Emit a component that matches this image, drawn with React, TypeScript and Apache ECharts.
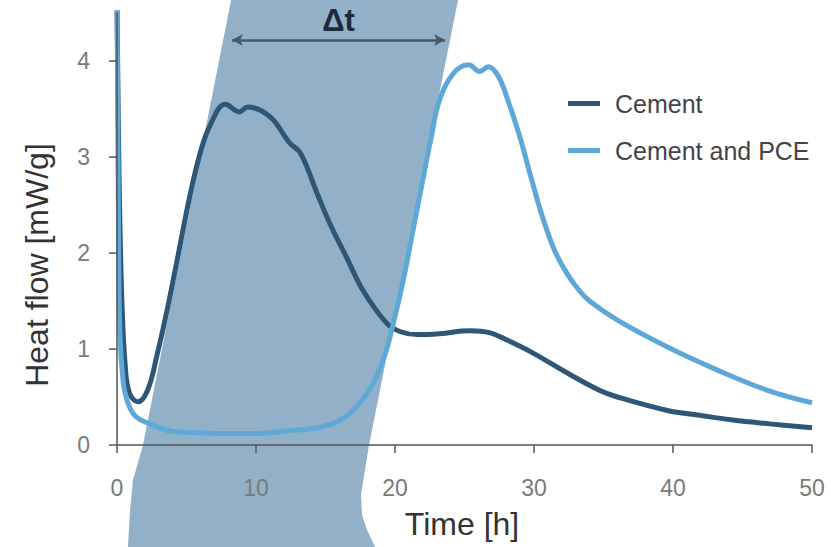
import React, { useEffect, useRef } from "react";
import * as echarts from "echarts";

const seriesNames = ["Cement", "Cement and PCE"];

const timeCement = [0, 0.15, 0.35, 0.6, 0.9, 1.5, 2.2, 2.9, 3.6, 4.4, 5.25, 6.0, 6.7, 7.8, 8.8, 9.4, 11, 12.4, 13.2, 14.4, 15.3, 16.5, 17.7, 19.4, 20.4, 21.6, 23.2, 25.4, 26.8, 28.1, 29.9, 32.4, 34.7, 36, 39.6, 41.9, 44.3, 47, 50];
const heatCement = [4.6, 2.8, 1.5, 0.81, 0.54, 0.45, 0.57, 0.95, 1.4, 1.98, 2.6, 3.05, 3.33, 3.55, 3.47, 3.52, 3.42, 3.15, 3.04, 2.62, 2.31, 1.96, 1.61, 1.27, 1.18, 1.15, 1.16, 1.19, 1.17, 1.09, 0.96, 0.75, 0.57, 0.5, 0.36, 0.31, 0.26, 0.22, 0.18];

const timePce = [0, 0.1, 0.2, 0.45, 0.75, 1.15, 1.6, 2.2, 3, 4, 5.5, 7.6, 10, 12.4, 14, 15.5, 16.5, 17.3, 18, 18.7, 19.3, 19.8, 20.6, 21.3, 22.0, 22.6, 23.2, 24.2, 25.3, 26.1, 26.7, 27.4, 28.1, 29.0, 29.8, 30.6, 31.5, 32.4, 33.2, 34, 36, 39.6, 43.2, 46.8, 50];
const heatPce = [4.6, 2.5, 1.2, 0.65, 0.45, 0.33, 0.27, 0.23, 0.18, 0.14, 0.13, 0.12, 0.12, 0.15, 0.17, 0.22, 0.3, 0.41, 0.54, 0.72, 0.95, 1.22, 1.72, 2.24, 2.76, 3.2, 3.59, 3.87, 3.96, 3.89, 3.94, 3.85, 3.6, 3.2, 2.78, 2.38, 2.02, 1.78, 1.62, 1.5, 1.3, 1.02, 0.78, 0.57, 0.44];

const xTicks = [0, 10, 20, 30, 40, 50];
const yTicks = [0, 1, 2, 3, 4];

// shaded induction-delay band, in (time, heat flow) units
const bandLeftEdge = [[8.35, 4.74], [1.87, 0], [1.15, -0.365], [0.94, -0.68], [0.79, -1.06], [0.72, -1.2]];
const bandRightEdge = [[19.06, -1.2], [18.56, -1.06], [17.99, -0.885], [17.63, -0.73], [17.55, -0.52], [17.84, -0.26], [18.13, 0], [24.68, 4.74]];

// Δt arrow ends (time, heat flow)
const deltaTArrow = [[8.27, 4.22], [23.6, 4.22]];
const deltaTLabel = "Δt";

const FONT = "'Liberation Sans', Arial, Helvetica, sans-serif";

export default function App() {
  const ref = useRef<HTMLDivElement>(null);
  useEffect(() => {
    if (!ref.current) return;
    const chart = echarts.init(ref.current, undefined, { renderer: "svg" });
    const cementData = timeCement.map((t, i) => [t, heatCement[i]]);
    const pceData = timePce.map((t, i) => [t, heatPce[i]]);
    const bandPoints = [...bandLeftEdge, ...bandRightEdge];
    chart.setOption({
      animation: false,
      backgroundColor: "#ffffff",
      grid: { left: 117, right: 19, top: 13, bottom: 102, containLabel: false },
      xAxis: {
        type: "value",
        min: 0,
        max: 50,
        interval: 10,
        z: 5,
        axisLine: { show: true, lineStyle: { color: "#555", width: 1.5 } },
        axisTick: { show: true, length: 8, lineStyle: { color: "#555", width: 1.5 }, customValues: xTicks },
        axisLabel: { margin: 31, fontSize: 23, color: "#7a7a7a", fontFamily: FONT, customValues: xTicks },
        splitLine: { show: false },
      },
      yAxis: {
        type: "value",
        min: 0,
        max: 4.5,
        interval: 1,
        z: 5,
        axisLine: { show: true, lineStyle: { color: "#555", width: 1.5 } },
        axisTick: { show: true, length: 8, lineStyle: { color: "#555", width: 1.5 }, customValues: yTicks },
        axisLabel: { margin: 27, fontSize: 23, color: "#7a7a7a", fontFamily: FONT, customValues: yTicks },
        splitLine: { show: false },
      },
      legend: {
        data: seriesNames,
        orient: "vertical",
        left: 563,
        top: 86,
        icon: "rect",
        itemWidth: 32,
        itemHeight: 5,
        itemGap: 22,
        textStyle: { fontSize: 25, color: "#444", fontFamily: FONT, padding: [0, 0, 0, 10] },
      },
      graphic: [
        {
          type: "text",
          x: 37,
          y: 265,
          rotation: Math.PI / 2,
          style: {
            text: "Heat flow [mW/g]",
            fontSize: 32,
            fontFamily: FONT,
            fill: "#333",
            textAlign: "center",
            textVerticalAlign: "middle",
          },
        },
        {
          type: "text",
          x: 462,
          y: 524,
          style: {
            text: "Time [h]",
            fontSize: 32,
            fontFamily: FONT,
            fill: "#333",
            textAlign: "center",
            textVerticalAlign: "middle",
          },
        },
      ],
      series: [
        {
          type: "custom",
          name: "band",
          silent: true,
          clip: false,
          z: 1,
          data: [[0, 0]],
          renderItem: (params: any, api: any) => ({
            type: "polygon",
            shape: { points: bandPoints.map((p) => api.coord(p)) },
            style: { fill: "#92b1c9" },
          }),
          markLine: {
            silent: true,
            symbol: ["arrow", "arrow"],
            symbolSize: [9, 11],
            lineStyle: { color: "#4a5866", width: 2.5, type: "solid" },
            label: {
              show: true,
              position: "middle",
              formatter: deltaTLabel,
              fontSize: 31,
              fontWeight: "bold",
              color: "#1c2b3c",
              fontFamily: FONT,
              distance: 4,
            },
            data: [[{ coord: deltaTArrow[0] }, { coord: deltaTArrow[1] }]],
          },
        },
        {
          type: "line",
          name: seriesNames[0],
          data: cementData,
          showSymbol: false,
          symbol: "none",
          smooth: 0.4,
          z: 3,
          color: "#2d5677",
          lineStyle: { color: "#2d5677", width: 5 },
        },
        {
          type: "line",
          name: seriesNames[1],
          data: pceData,
          showSymbol: false,
          symbol: "none",
          smooth: 0.4,
          z: 4,
          color: "#5ea8d8",
          lineStyle: { color: "#5ea8d8", width: 5 },
        },
      ],
    });
    return () => chart.dispose();
  }, []);
  return (
    <div
      ref={ref}
      style={{ position: "fixed", left: 0, top: 0, width: 831, height: 547 }}
    />
  );
}
